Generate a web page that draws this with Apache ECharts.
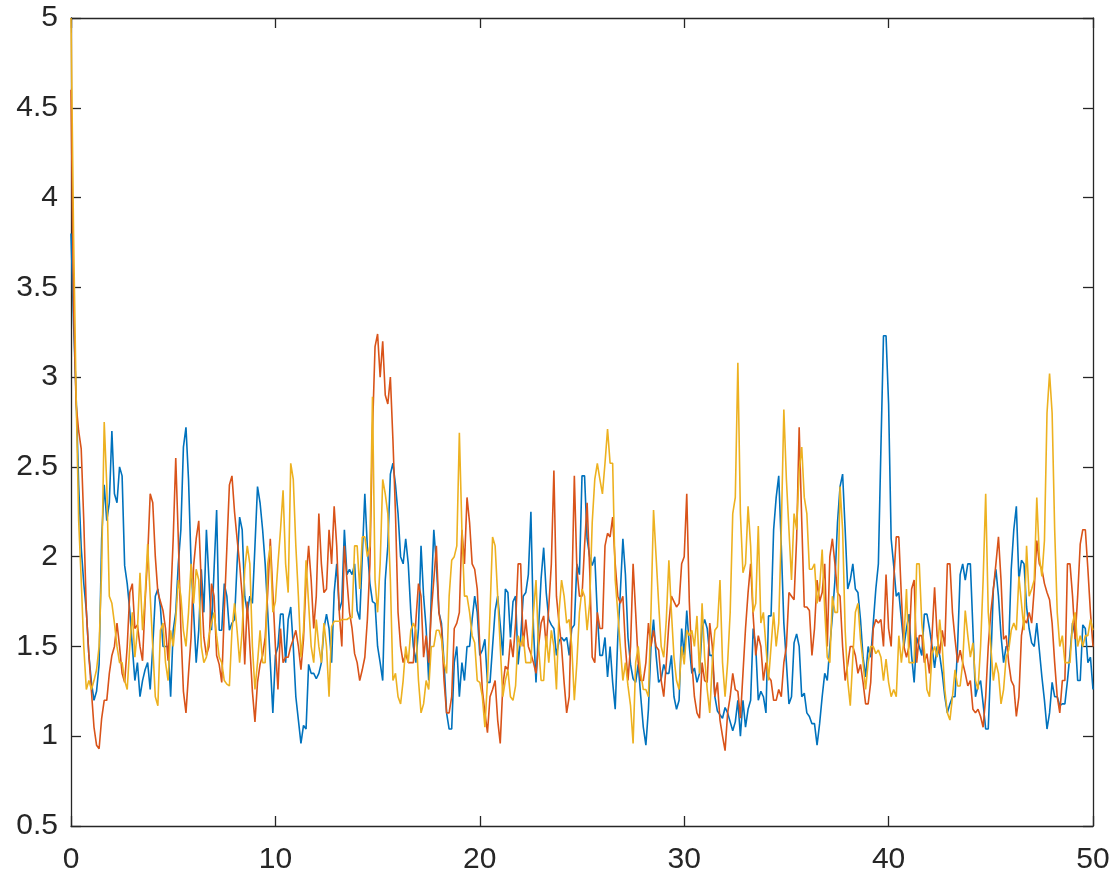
<!DOCTYPE html>
<html>
<head>
<meta charset="utf-8">
<script src="https://cdn.jsdelivr.net/npm/echarts@6/dist/echarts.min.js"></script>
<style>
html,body{margin:0;padding:0;background:#fff;}
#chart{width:1119px;height:888px;}
</style>
</head>
<body>
<div id="chart"></div>
<script>
// sampling step of the time axis (t = 0 ... 50)
const timeStep = 0.125;

const series1 = [
  3.8,3.3,2.9,2.4,2.05,1.85,1.7,1.45, 1.3,1.2,1.25,1.4,2.1,2.4,2.2,2.3,
  2.7,2.35,2.3,2.5,2.45,1.95,1.85,1.7, 1.5,1.31,1.41,1.22,1.31,1.37,1.41,1.26,
  1.5,1.78,1.82,1.72,1.5,1.5,1.5,1.22, 1.59,1.69,1.96,2.15,2.61,2.72,2.43,1.96,
  1.69,1.41,1.59,1.93,1.69,2.15,1.87,1.59, 1.93,2.26,1.59,1.59,1.85,1.78,1.59,1.63,
  1.65,1.96,2.22,2.15,1.78,1.69,1.78,1.74, 2.06,2.39,2.3,2.15,1.96,1.69,1.41,1.13,
  1.45,1.5,1.68,1.68,1.41,1.65,1.72,1.5, 1.22,1.09,0.96,1.06,1.04,1.4,1.35,1.35,
  1.32,1.35,1.41,1.6,1.68,1.6,1.41,1.8, 1.96,1.7,1.75,2.15,1.9,1.93,1.9,1.96,
  1.7,1.65,2.0,2.35,2.05,1.85,1.75,1.74, 1.5,1.41,1.31,1.87,2.06,2.46,2.52,2.4,
  2.24,2.0,1.96,2.1,1.96,1.69,1.5,1.41, 1.6,2.06,1.78,1.6,1.31,1.78,2.15,1.96,
  1.69,1.63,1.41,1.13,1.04,1.04,1.41,1.5, 1.22,1.41,1.31,1.5,1.5,1.65,1.78,1.69,
  1.45,1.48,1.54,1.3,1.3,1.5,1.7,1.78, 1.62,1.45,1.82,1.8,1.55,1.75,1.78,1.4,
  1.55,1.78,1.8,1.9,2.25,1.6,1.3,1.6, 1.88,2.05,1.8,1.65,1.62,1.6,1.45,1.53,
  1.55,1.53,1.55,1.45,1.6,1.62,1.96,1.9, 2.45,2.45,2.1,2.0,1.95,2.0,1.68,1.45,
  1.45,1.55,1.33,1.5,1.3,1.15,1.55,1.8, 2.1,1.9,1.55,1.4,1.32,1.3,1.4,1.22,
  1.05,0.95,1.15,1.5,1.65,1.45,1.3,1.32, 1.4,1.35,1.35,1.45,1.22,1.15,1.2,1.6,
  1.45,1.7,1.5,1.35,1.38,1.3,1.35,1.6, 1.65,1.6,1.45,1.45,1.22,1.14,1.12,1.1,
  1.16,1.13,1.08,1.03,1.08,1.2,1.0,1.2, 1.05,1.15,1.2,1.6,1.5,1.2,1.25,1.22,
  1.13,1.67,1.67,2.15,2.33,2.45,2.06,1.63, 1.41,1.18,1.22,1.52,1.57,1.5,1.22,1.24,
  1.13,1.11,1.07,1.07,0.95,1.07,1.22,1.35, 1.31,1.5,1.67,1.87,2.19,2.39,2.46,2.15,
  1.82,1.87,1.96,1.82,1.8,1.65,1.44,1.33, 1.5,1.44,1.63,1.82,1.96,2.61,3.23,3.23,
  2.85,2.1,1.95,1.78,1.8,1.65,1.5,1.6, 1.68,1.45,1.3,1.55,1.5,1.45,1.68,1.68,
  1.6,1.5,1.38,1.5,1.45,1.35,1.22,1.13, 1.18,1.22,1.22,1.5,1.9,1.96,1.87,1.96,
  1.96,1.6,1.22,1.28,1.31,1.18,1.04,1.04, 1.41,1.82,1.93,1.78,1.56,1.41,1.5,1.5,
  1.93,2.15,2.28,1.87,1.98,1.96,1.72,1.6, 1.52,1.5,1.63,1.48,1.33,1.2,1.04,1.13,
  1.3,1.22,1.22,1.17,1.18,1.18,1.31,1.46, 1.63,1.56,1.31,1.31,1.62,1.6,1.41,1.44,
  1.26
];

const series2 = [
  4.6,3.4,2.85,2.7,2.6,2.2,1.7,1.45, 1.25,1.05,0.95,0.93,1.1,1.2,1.2,1.35,
  1.45,1.5,1.63,1.5,1.35,1.3,1.5,1.8, 1.85,1.6,1.62,1.5,1.42,1.75,2.0,2.35,
  2.3,2.0,1.8,1.75,1.7,1.6,1.42,1.75, 2.1,2.55,2.1,1.6,1.25,1.13,1.35,1.55,
  1.95,2.1,2.2,1.85,1.55,1.45,1.5,1.85, 1.78,1.45,1.4,1.3,1.7,2.05,2.4,2.45,
  2.25,2.1,1.96,1.78,1.4,1.75,1.5,1.25, 1.08,1.3,1.4,1.45,1.55,1.8,2.1,1.8,
  1.5,1.26,1.6,1.41,1.44,1.44,1.5,1.54, 1.59,1.5,1.37,1.54,1.87,2.06,1.87,1.6,
  1.78,2.24,1.96,1.8,1.82,2.15,1.96,2.28, 2.06,1.69,1.5,2.06,1.87,1.69,1.6,1.46,
  1.41,1.31,1.37,1.44,1.65,1.96,2.7,3.17, 3.24,3.0,3.2,2.9,2.85,3.0,2.65,2.24,
  1.69,1.5,1.41,1.46,1.41,1.41,1.41,1.65, 1.85,1.78,1.44,1.56,1.41,1.69,1.87,2.06,
  1.69,1.6,1.31,1.13,1.13,1.22,1.6,1.63, 1.69,2.15,1.96,2.33,2.19,1.96,1.93,1.82,
  1.5,1.26,1.13,1.02,1.22,1.26,1.31,1.09, 0.96,1.28,1.39,1.37,1.54,1.44,1.63,1.96,
  1.96,1.5,1.65,1.5,1.46,1.41,1.35,1.5, 1.63,1.67,1.5,1.72,1.96,2.48,1.78,1.63,
  1.5,1.3,1.13,1.22,1.78,2.45,1.93,1.78, 1.78,2.06,2.3,1.93,1.44,1.41,1.69,1.6,
  1.6,2.06,2.13,2.11,2.22,1.96,1.78,1.74, 1.78,1.5,1.31,1.5,1.96,1.69,1.41,1.31,
  1.31,1.41,1.63,1.5,1.59,1.5,1.48,1.31, 1.22,1.41,1.63,1.78,1.75,1.72,1.74,1.96,
  2.0,2.35,1.75,1.41,1.22,1.13,1.1,1.41, 1.31,1.3,1.63,1.5,1.22,1.3,1.09,1.0,
  0.92,1.13,1.22,1.35,1.26,1.25,1.1,1.35, 1.6,1.8,1.96,1.67,1.45,1.56,1.5,1.31,
  1.41,1.33,1.31,1.2,1.2,1.26,1.22,1.41, 1.5,1.8,1.78,1.76,2.1,2.72,2.2,1.72,
  1.72,1.7,1.45,1.6,1.87,1.75,1.8,1.96, 1.5,2.0,2.1,1.96,1.8,1.78,1.5,1.31,
  1.4,1.5,1.5,1.45,1.35,1.4,1.3,1.18, 1.18,1.3,1.6,1.65,1.63,1.65,1.5,1.9,
  1.6,1.5,1.87,2.11,2.11,1.78,1.5,1.44, 1.5,1.82,1.87,1.41,1.56,1.56,1.41,1.46,
  1.35,1.56,1.83,1.56,1.46,1.59,1.5,1.96, 1.96,1.69,1.54,1.41,1.48,1.41,1.35,1.28,
  1.31,1.15,1.13,1.15,1.11,1.05,1.22,1.5, 1.69,1.82,1.96,2.11,1.87,1.54,1.56,1.41,
  1.31,1.28,1.11,1.22,1.56,1.65,1.63,1.69, 1.63,1.82,2.09,1.96,1.93,1.85,1.8,1.76,
  1.63,1.41,1.22,1.13,1.31,1.31,1.96,1.96, 1.78,1.54,1.78,2.07,2.15,2.15,1.93,1.69,
  1.5
];

const series3 = [
  5.0,3.8,2.9,2.2,1.87,1.5,1.26,1.31, 1.26,1.31,1.37,1.5,1.93,2.75,2.4,1.78,
  1.74,1.63,1.5,1.41,1.41,1.31,1.26,1.5, 1.69,1.44,1.59,1.91,1.59,1.78,2.07,1.78,
  1.5,1.22,1.17,1.59,1.63,1.41,1.31,1.59, 1.5,1.65,1.87,1.78,1.59,1.5,1.69,1.96,
  1.74,1.93,1.87,1.5,1.41,1.44,1.56,1.63, 1.69,1.56,1.44,1.41,1.31,1.29,1.28,1.59,
  1.74,1.59,1.41,1.59,1.93,2.06,1.96,1.5, 1.26,1.41,1.59,1.41,1.41,1.96,2.06,1.69,
  1.75,1.96,2.15,2.37,1.96,1.8,2.52,2.43, 2.06,1.78,1.44,1.59,1.98,1.74,1.5,1.41,
  1.65,1.5,1.41,1.63,1.5,1.22,1.61,1.64, 1.64,1.64,1.65,1.65,1.65,1.66,1.66,2.06,
  2.06,1.82,2.11,2.11,2.0,2.06,2.89,1.87, 1.69,1.96,2.43,2.35,2.24,1.87,1.31,1.35,
  1.22,1.18,1.31,1.5,1.41,1.59,1.63,1.59, 1.31,1.13,1.18,1.31,1.26,1.5,1.5,1.59,
  1.59,1.54,1.41,1.35,1.78,1.98,2.0,2.06, 2.69,2.15,1.78,1.78,1.69,1.56,1.52,1.31,
  1.3,1.22,1.05,1.31,1.69,2.11,2.06,1.78, 1.5,1.22,1.31,1.37,1.22,1.2,1.28,1.56,
  1.5,1.56,1.41,1.41,1.41,1.69,1.87,1.5, 1.31,1.31,1.56,1.41,1.59,1.5,1.26,1.69,
  1.87,1.78,1.63,1.65,1.5,1.2,1.41,1.69, 1.82,1.78,1.59,1.74,2.19,2.43,2.52,2.43,
  2.35,2.52,2.71,2.52,2.52,1.87,1.69,1.5, 1.31,1.41,1.28,1.17,0.96,1.41,1.5,1.35,
  1.26,1.26,1.22,1.69,2.26,2.0,1.74,1.5, 1.44,1.65,1.98,1.69,1.44,1.31,1.26,1.5,
  1.4,1.59,1.56,1.59,1.5,1.67,1.35,1.74, 1.44,1.26,1.13,1.41,1.59,1.61,1.87,1.41,
  1.22,1.41,1.69,2.24,2.33,3.08,2.24,1.91, 1.96,2.28,2.06,1.69,1.74,2.17,1.63,1.69,
  1.5,1.31,1.5,1.69,1.5,1.63,2.15,2.82, 2.43,2.15,1.87,2.24,2.15,2.48,2.61,2.33,
  2.24,1.93,1.93,1.96,1.74,1.83,2.04,1.7, 1.44,1.41,1.78,1.69,1.69,2.39,2.15,1.59,
  1.31,1.17,1.44,1.69,1.74,1.54,1.41,1.26, 1.41,1.5,1.5,1.46,1.48,1.44,1.31,1.43,
  1.3,1.22,1.26,1.22,1.56,1.41,1.54,1.82, 1.41,1.41,1.41,1.96,1.96,1.63,1.48,1.26,
  1.22,1.46,1.5,1.44,1.65,1.5,1.26,1.13, 1.09,1.22,1.37,1.28,1.28,1.41,1.7,1.56,
  1.44,1.52,1.31,1.26,1.5,1.87,2.35,1.69, 1.5,1.31,1.41,1.35,1.18,1.26,1.44,1.48,
  1.59,1.63,1.59,1.89,1.74,1.59,2.06,1.78, 1.82,1.87,2.33,2.0,1.89,2.09,2.8,3.02,
  2.8,2.15,1.69,1.5,1.56,1.41,1.41,1.41, 1.63,1.69,1.5,1.56,1.5,1.56,1.56,1.65,
  1.59
];

const xTicks = [0, 10, 20, 30, 40, 50];
const yTicks = [0.5, 1, 1.5, 2, 2.5, 3, 3.5, 4, 4.5, 5];
const seriesColors = ['#0072BD', '#D95319', '#EDB120'];

function toPairs(vals) {
  return vals.map((v, i) => [i * timeStep, v]);
}

const axisColor = '#262626';
const labelFont = { fontFamily: 'Liberation Sans, Arial, Helvetica, sans-serif', fontSize: 30, color: axisColor };

const chart = echarts.init(document.getElementById('chart'), null, { renderer: 'canvas' });
const xBase = {
  type: 'value', min: xTicks[0], max: xTicks[xTicks.length - 1], interval: 10,
  axisLine: { show: true, onZero: false, lineStyle: { color: axisColor, width: 1.3 } },
  axisTick: { show: true, inside: true, length: 10, lineStyle: { color: axisColor, width: 1.3 } },
  splitLine: { show: false }
};
const yBase = {
  type: 'value', min: yTicks[0], max: yTicks[yTicks.length - 1], interval: 0.5,
  axisLine: { show: true, onZero: false, lineStyle: { color: axisColor, width: 1.3 } },
  axisTick: { show: true, inside: true, length: 10, lineStyle: { color: axisColor, width: 1.3 } },
  splitLine: { show: false }
};

chart.setOption({
  animation: false,
  backgroundColor: '#ffffff',
  grid: { left: 71, right: 26, top: 18, bottom: 62, containLabel: false },
  xAxis: [
    Object.assign({}, xBase, { position: 'bottom', axisLabel: Object.assign({ show: true, margin: 19 }, labelFont) }),
    Object.assign({}, xBase, { position: 'top', axisLabel: { show: false } })
  ],
  yAxis: [
    Object.assign({}, yBase, { position: 'left', axisLabel: Object.assign({ show: true, margin: 13 }, labelFont) }),
    Object.assign({}, yBase, { position: 'right', axisLabel: { show: false } })
  ],
  series: [series1, series2, series3].map((vals, k) => ({
    type: 'line',
    xAxisIndex: 0,
    yAxisIndex: 0,
    data: toPairs(vals),
    showSymbol: false,
    symbol: 'none',
    lineStyle: { color: seriesColors[k], width: 1.6 },
    itemStyle: { color: seriesColors[k] },
    z: 2 + k
  }))
});
</script>
</body>
</html>
